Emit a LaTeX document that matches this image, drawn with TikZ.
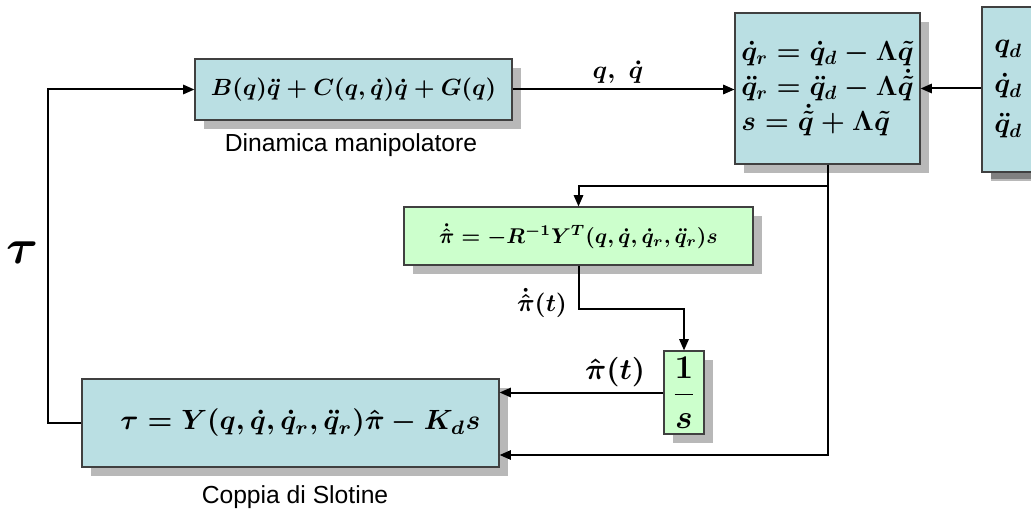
\documentclass[tikz,border=0pt]{standalone}
\usepackage{amsmath}
\usepackage{fontspec}
\newfontfamily\arialf{Liberation Sans}
\usetikzlibrary{arrows.meta,shadows}
\definecolor{blu}{HTML}{BADFE3}
\definecolor{grn}{HTML}{CCFFCC}
\tikzset{
  box/.style={draw=black!75, line width=0.8pt, inner sep=0pt,
    drop shadow={opacity=1, fill=black!28, shadow xshift=6.5pt, shadow yshift=-6.5pt}},
  bluebox/.style={box, fill=blu},
  greenbox/.style={box, fill=grn},
  wire/.style={line width=1.5pt},
  arr/.style={wire, -{Triangle[length=8.5pt,width=7pt]}},
  lbl/.style={inner sep=0pt, font=\arialf\fontsize{18.5}{22}\selectfont},
  mlbl/.style={inner sep=0pt},
}
\begin{document}
\begin{tikzpicture}[x=0.75pt,y=-0.75pt]
\useasboundingbox (0,0) rectangle (1031,517);

% blocks
\node[bluebox, minimum width=317*0.75pt, minimum height=61*0.75pt] (dyn) at (353.5,89.5)
  {\resizebox{214pt}{!}{\boldmath$B(q)\ddot q + C(q,\dot q)\dot q + G(q)$}};
\node[bluebox, minimum width=185*0.75pt, minimum height=151*0.75pt, align=left,
  font=\fontsize{21}{26}\selectfont\boldmath] (ref) at (827.5,88.5)
  {$\dot q_r = \dot q_d - \Lambda\tilde q$\\
   $\ddot q_r = \ddot q_d - \Lambda\dot{\tilde q}$\\
   $s = \dot{\tilde q} + \Lambda\tilde q$};
\node[box, fill=blu, drop shadow={opacity=1, fill=black!50, shadow xshift=7pt, shadow yshift=-5pt},
  minimum width=52*0.75pt, minimum height=165*0.75pt, align=left,
  font=\fontsize{22}{30}\selectfont\boldmath] (qd) at (1008,89.5)
  {$q_d$\\ $\dot q_d$\\ $\ddot q_d$};
\node[greenbox, minimum width=349*0.75pt, minimum height=58*0.75pt] (green) at (578.5,236)
  {\resizebox{209pt}{!}{\boldmath$\dot{\hat\pi} = -R^{-1}Y^T(q,\dot q,\dot q_r,\ddot q_r)s$}\hspace{15pt}};
\node[greenbox, minimum width=40*0.75pt, minimum height=83*0.75pt,
  font=\fontsize{27}{27}\selectfont\boldmath] (onebys) at (684,392.5)
  {$\dfrac{1}{s}$};
\node[bluebox, minimum width=417*0.75pt, minimum height=88*0.75pt] (slot) at (290.5,423)
  {\hspace{15pt}\resizebox{270pt}{!}{\boldmath$\tau = Y(q,\dot q,\dot q_r,\ddot q_r)\hat\pi - K_d s$}};

% captions
\node[lbl] (cdyn) at (351,145) {Dinamica manipolatore};
\node[lbl] (cslot) at (295,497) {Coppia di Slotine};

% signal labels
\node[mlbl] (ltau) at (23,253) {\resizebox{24pt}{!}{\boldmath$\tau$}};
\node[mlbl] (lq) at (618,72) {\resizebox{38pt}{!}{\boldmath$q,\ \dot q$}};
\node[mlbl] (lpidot) at (542,303) {\resizebox{37.5pt}{!}{\boldmath$\dot{\hat\pi}(t)$}};
\node[mlbl] (lpi) at (615,372) {\resizebox{45pt}{!}{\boldmath$\hat\pi(t)$}};

% connectors
\draw[arr] (dyn.east) -- (dyn.east -| ref.west);
\draw[arr] (qd.west |- ref.east) -- (ref.east);
\draw[arr] (ref.south) -- ++(0,21) -| (green.north);
\draw[arr] (ref.south) |- ([yshift=-24pt]slot.east);
\draw[arr] (green.south) -- ++(0,43) -| (onebys.north);
\draw[arr] (onebys.west) -- (onebys.west -| slot.east);
\draw[arr] (slot.west) -- ++(-33,0) |- (dyn.west);
\end{tikzpicture}
\end{document}
